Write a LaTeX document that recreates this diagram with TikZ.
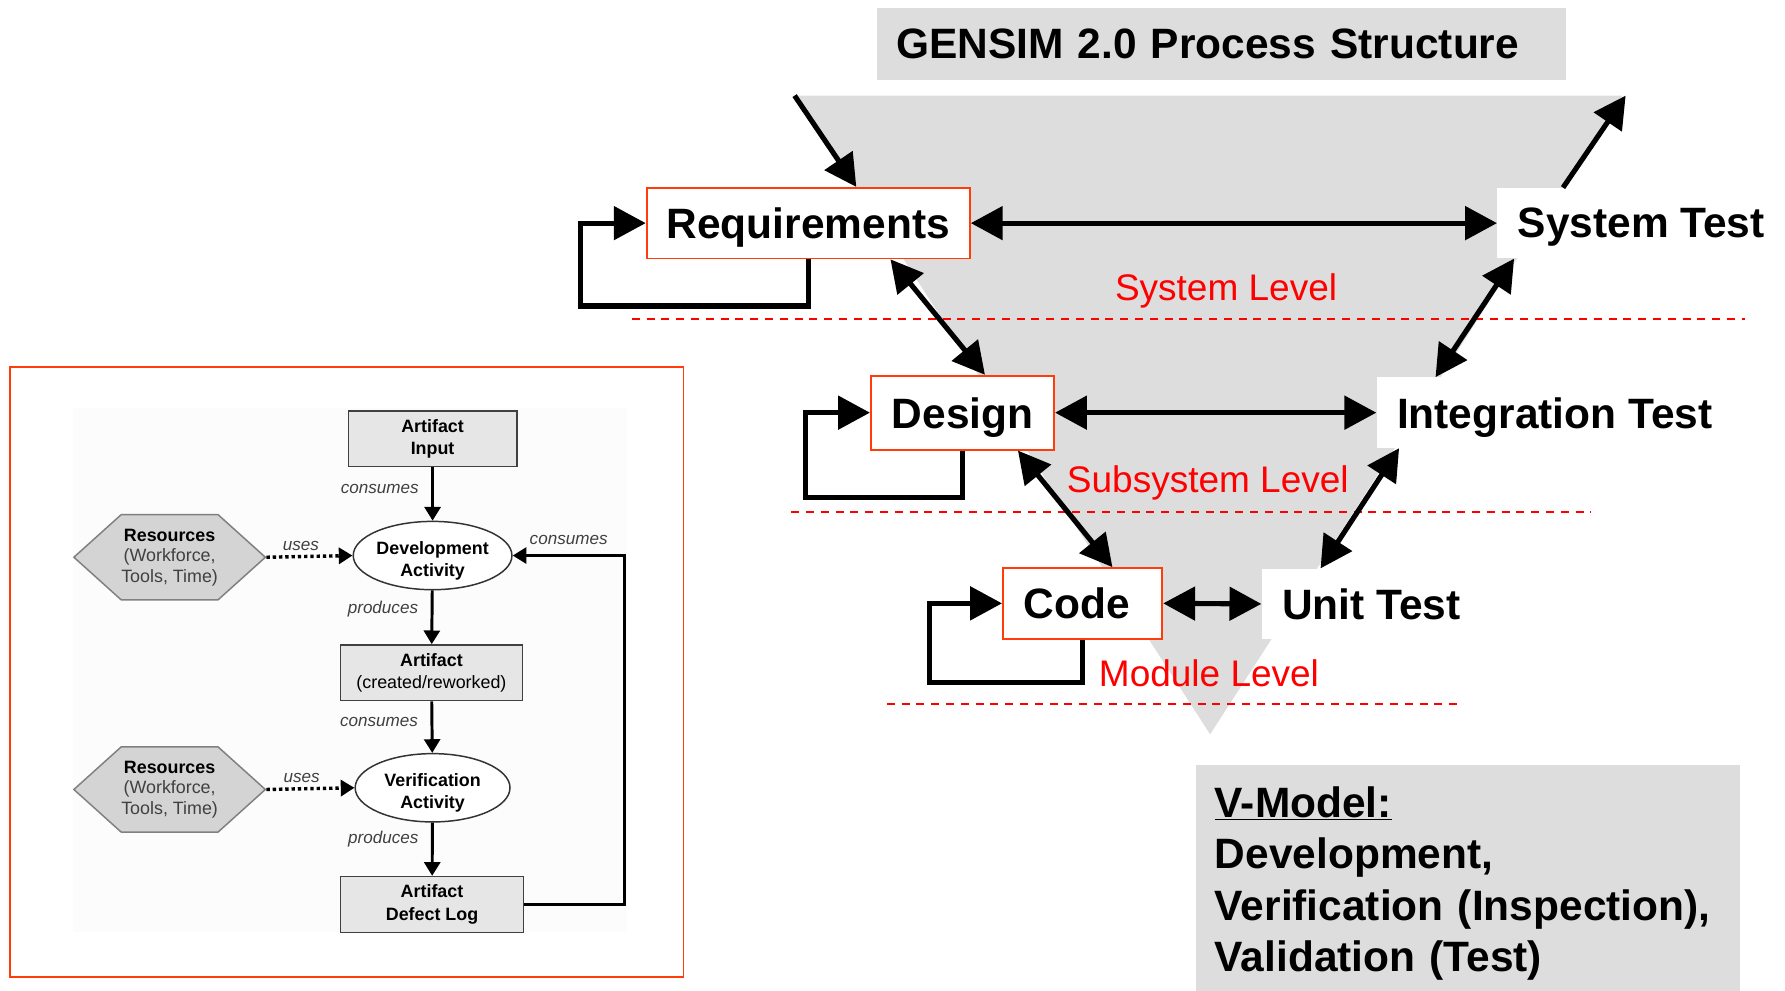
\documentclass[tikz,border=0pt]{standalone}
\usepackage{fontspec}
\setmainfont{Liberation Sans}
\usetikzlibrary{arrows.meta,shapes.geometric,shapes.symbols}

\definecolor{vgray}{RGB}{221,221,221}
\definecolor{boxred}{RGB}{255,60,10}
\definecolor{artgray}{RGB}{230,230,230}
\definecolor{resgray}{RGB}{212,212,212}
\definecolor{panelbg}{RGB}{252,252,252}

\newcommand{\vfont}{\fontsize{37.3}{45}\selectfont\bfseries}
\newcommand{\levfont}{\fontsize{32.5}{38}\selectfont}
\newcommand{\smbf}{\fontsize{15.7}{19.5}\selectfont\bfseries}
\newcommand{\smrm}{\fontsize{15.7}{18}\selectfont\mdseries}
\newcommand{\smit}{\fontsize{15}{18}\selectfont\itshape}

\begin{document}
\begin{tikzpicture}[x=1pt, y=-1pt,
    phase/.style={draw=boxred, line width=1.6pt, fill=white, inner sep=0pt, text depth=0pt, font=\vfont},
    testbox/.style={anchor=west, fill=white, inner xsep=18pt, inner ysep=0pt, minimum height=62pt, text depth=0pt, font=\vfont},
    levtext/.style={text=red, font=\levfont, inner sep=0pt, text depth=0pt},
    levline/.style={red, line width=1.8pt, dash pattern=on 7pt off 6pt},
    vflow/.style={line width=4.5pt, -{Triangle[length=28pt,width=29pt]}},
    vboth/.style={line width=4.5pt, {Triangle[length=28pt,width=29pt]}-{Triangle[length=28pt,width=29pt]}},
    artifact/.style={draw=black!75, fill=artgray, line width=1.3pt, minimum height=49pt, inner sep=0pt, align=center, font=\smbf},
    activity/.style={ellipse, draw=black!80, fill=white, line width=1.3pt, minimum width=136pt, minimum height=60pt, inner sep=0pt, text height=36.7pt, text depth=0pt, align=center, font=\smbf},
    resource/.style={signal, signal to=west and east, signal pointer angle=84, draw=black!50, fill=resgray, line width=1.3pt, minimum width=166pt, minimum height=75pt, inner sep=0pt, align=center, font=\smrm, text=black!75},
    flow/.style={line width=2.6pt, -{Triangle[length=12pt,width=14pt]}},
    dotflow/.style={line width=3pt, dash pattern=on 3pt off 2.5pt, -{Triangle[length=12pt,width=14pt]}},
    rel/.style={font=\smit, text=black!75, inner sep=0pt}]

\useasboundingbox (0,0) rectangle (1568,870);
\fill[white] (0,0) rectangle (1568,870);

% V-model funnel and title
\fill[vgray] (701,84) -- (1425,84) -- (1063,645) -- cycle;
\node[anchor=west, fill=vgray, inner xsep=17pt, text width=571pt, minimum height=63pt, text depth=0pt, font=\vfont] (title) at (770,38.5) {GENSIM 2.0 Process Structure};

% Levels
\draw[levline] (555,280) -- (1533,280);
\draw[levline] (695,449.5) -- (1398,449.5);
\draw[levline] (779,618) -- (1286,618);
\node[levtext] (syslev) at (1077,252) {System Level};
\node[levtext] (sublev) at (1061,421) {Subsystem Level};
\node[levtext] (modlev) at (1062,591) {Module Level};

% Development and test phases
\node[phase, minimum width=284pt, minimum height=62pt] (req) at (710,196) {Requirements};
\node[phase, minimum width=161pt, minimum height=65pt] (design) at (845.5,362.5) {Design};
\node[phase, minimum width=140pt, minimum height=62pt] (code) at (951,530) {Code\hspace*{10pt}};
\node[testbox] (systest) at (1315,196) {System Test};
\node[testbox] (integ) at (1209,362.5) {Integration Test};
\node[testbox] (unit) at (1108,530.5) {Unit Test};

% Validation arrows
\draw[vboth] (req.east) -- (systest.west);
\draw[vboth] (design.east) -- (integ.west);
\draw[vboth] (code.east) -- (unit.west);

% Refinement arrows
\draw[vboth] ([xshift=215pt]req.south west) -- ([xshift=101pt]design.north west);
\draw[vboth] ([xshift=130pt]design.south west) -- ([xshift=97pt]code.north west);
\draw[vboth] ([xshift=15pt]systest.south west) -- ([xshift=52pt]integ.north west);
\draw[vboth] ([xshift=20pt]integ.south west) -- ([xshift=52pt]unit.north west);

% In and out
\coordinate (vin) at (698,84);
\coordinate (vout) at (1428,84);
\draw[vflow] (vin) -- ([xshift=185pt]req.north west);
\draw[vflow] ([xshift=58pt]systest.north west) -- (vout);

% Rework loops
\draw[vflow] (req.south) -- ++(0,41) -| ([xshift=-57pt]req.west) -- (req.west);
\draw[vflow] (design.south) -- ++(0,41) -| ([xshift=-57pt]design.west) -- (design.west);
\draw[vflow] (code.south) -- ++(0,38) -| ([xshift=-64pt]code.west) -- (code.west);

% V-model legend
\node[anchor=north west, fill=vgray, inner xsep=17pt, inner ysep=19pt, text width=444pt, align=left, font=\vfont] (vmodel) at (1050,672) {\underline{V-Model:}\\Development,\\Verification (Inspection),\\Validation (Test)};

% Process structure panel
\draw[boxred, line width=1.5pt] (8.5,322.5) rectangle (600.5,858.5);
\fill[panelbg] (64,358) rectangle (551,819);

\node[artifact, minimum width=148pt] (ainput) at (380,385.5) {Artifact\\Input};
\node[activity] (dev) at (380,488) {Development\\Activity};
\node[artifact, minimum width=160pt] (acreated) at (379,591) {Artifact\\{\smrm (created/reworked)}};
\node[activity] (ver) at (380,692) {Verification\\Activity};
\node[artifact, minimum width=161pt] (adefect) at (379.5,794.5) {Artifact\\Defect Log};
\node[resource] (res1) at (149,489.5) {\textcolor{black}{\textbf{Resources}}\\(Workforce,\\Tools, Time)};
\node[resource] (res2) at (149,693.5) {\textcolor{black}{\textbf{Resources}}\\(Workforce,\\Tools, Time)};

\draw[flow] (ainput) -- node[rel, left=11pt, pos=0.4] (lab1) {consumes} (dev);
\draw[flow] (dev) -- node[rel, left=11pt, pos=0.35] (lab2) {produces} (acreated);
\draw[flow] (acreated) -- node[rel, left=11pt, pos=0.4] (lab3) {consumes} (ver);
\draw[flow] (ver) -- node[rel, left=11pt, pos=0.3] (lab4) {produces} (adefect);
\draw[dotflow] (res1.east) -- node[rel, above=4pt, pos=0.4] (lab5) {uses} (dev.west);
\draw[dotflow] (res2.east) -- node[rel, above=4pt, pos=0.4] (lab6) {uses} (ver.west);
\draw[flow] (adefect.east) -- ++(88,0) |- node[rel, pos=0.75, above=8pt] (lab7) {consumes} (dev.east);
\end{tikzpicture}
\end{document}
